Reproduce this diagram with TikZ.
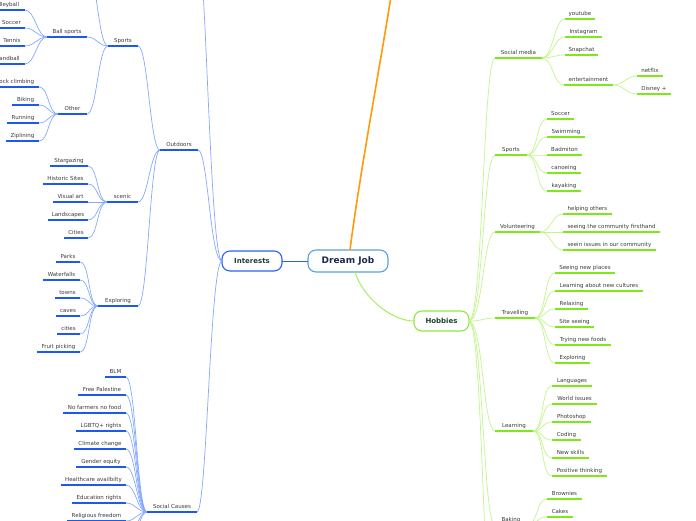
\documentclass[tikz,border=0pt]{standalone}
\usepackage{fontspec}
\setmainfont{DejaVu Sans}
\definecolor{lcon}{HTML}{86A8FF}
\definecolor{lul}{HTML}{1C58F2}
\definecolor{rcon}{HTML}{C2F58C}
\definecolor{rul}{HTML}{7EE81A}
\definecolor{txtc}{HTML}{3A3A3A}
\definecolor{djb}{HTML}{5AA2DA}
\definecolor{djt}{HTML}{182B4E}
\definecolor{intb}{HTML}{2A62F0}
\definecolor{maint}{HTML}{1D3F30}
\definecolor{hobb}{HTML}{8EE842}
\definecolor{orng}{HTML}{FF9A0A}
\tikzset{
  lbl/.style={font=\fontsize{5.5}{6.5}\selectfont, text=txtc, inner xsep=0pt, inner ysep=2.3pt,
    outer sep=0pt, text height=4.2pt, text depth=1.2pt},
  lnode/.style={lbl, anchor=south east},
  rnode/.style={lbl, anchor=south west},
  lconn/.style={draw=lcon, line width=0.7pt},
  rconn/.style={draw=rcon, line width=0.7pt},
  lline/.style={draw=lul, line width=1.5pt},
  rline/.style={draw=rul, line width=1.5pt},
  mainbox/.style={rounded corners=8pt, fill=white, line width=1.1pt, outer sep=0pt, inner sep=0pt},
}
\newcommand\LN[5]{\node[lnode, minimum width={(#3)-(#2)}] (#1) at (#3,#4) {#5};}
\newcommand\RN[5]{\node[rnode, minimum width={(#3)-(#2)}] (#1) at (#2,#4) {#5};}
\newcommand\LC[2]{\draw[lconn] (#1.south west) .. controls +(-10,0) and +(10,0) .. (#2.south east);}
\newcommand\RC[2]{\draw[rconn] (#1.south east) .. controls +(11,0) and +(-11,0) .. (#2.south west);}
\begin{document}
\begin{tikzpicture}[x=1pt,y=-1pt]
\useasboundingbox (0,0) rectangle (696,520);
\clip (0,0) rectangle (696,520);

% main nodes
\node[mainbox, draw=djb, minimum width=80pt, minimum height=22pt, text=djt,
  font=\fontsize{9}{10}\selectfont\bfseries] (dj) at (348,261) {Dream Job};
\node[mainbox, draw=intb, minimum width=60pt, minimum height=20pt, text=maint,
  font=\fontsize{7}{8}\selectfont\bfseries] (int) at (252,261) {Interests};
\node[mainbox, draw=hobb, minimum width=55pt, minimum height=20pt, text=maint,
  font=\fontsize{7}{8}\selectfont\bfseries] (hob) at (441.5,321) {Hobbies};

% off-picture ends
\coordinate (career) at (395,-30);
\coordinate (intup) at (198,-50);
\coordinate (spup) at (87,-30);
\coordinate (scd1) at (126,539);
\coordinate (scd2) at (126,557);
\coordinate (hobd) at (495,640);
\coordinate (bakd) at (547,535);

% left side nodes
\LN{out}{160}{198}{150}{Outdoors}
\LN{sp}{108}{138}{46}{Sports}
\LN{bs}{47}{87}{37}{Ball sports}
\LN{vb}{-13}{25}{10}{Volleyball}
\LN{soc}{-2}{25}{28}{Soccer}
\LN{ten}{-1}{25}{46}{Tennis}
\LN{hb}{-10}{25}{64}{Handball}
\LN{oth}{58}{87}{114}{Other}
\LN{rc}{-9}{39}{87}{Rock climbing}
\LN{bik}{12}{39}{105}{Biking}
\LN{run}{7}{39}{123}{Running}
\LN{zip}{6}{39}{141}{Ziplining}
\LN{sce}{107}{138}{202}{scenic}
\LN{sg}{50}{88}{166}{Stargazing}
\LN{hs}{43}{88}{184}{Historic Sites}
\LN{va}{53}{88}{202}{Visual art}
\LN{ls}{48}{88}{220}{Landscapes}
\LN{cit}{64}{88}{238}{Cities}
\LN{exp}{98}{138}{306}{Exploring}
\LN{pk}{56}{80}{262}{Parks}
\LN{wf}{43}{80}{280}{Waterfalls}
\LN{tw}{55}{80}{298}{towns}
\LN{cv}{56}{80}{316}{caves}
\LN{cis}{57}{80}{334}{cities}
\LN{fp}{37}{80}{352}{Fruit picking}
\LN{sc}{147}{197}{512}{Social Causes}
\LN{blm}{105}{126}{377}{BLM}
\LN{fpal}{78}{126}{395}{Free Palestine}
\LN{nf}{63}{126}{413}{No farmers no food}
\LN{lg}{76}{126}{431}{LGBTQ+ rights}
\LN{cc}{74}{126}{449}{Climate change}
\LN{ge}{76}{126}{467}{Gender equity}
\LN{hc}{61}{126}{485}{Healthcare availbilty}
\LN{er}{72}{126}{503}{Education rights}
\LN{rf}{67}{126}{521}{Religious freedom}

% right side nodes
\RN{sm}{495}{542}{58}{Social media}
\RN{yt}{565}{595}{19}{youtube}
\RN{ig}{565}{602}{37}{Instagram}
\RN{snap}{565}{598}{55}{Snapchat}
\RN{ent}{564}{613}{85}{entertainment}
\RN{nfx}{637}{663}{76}{netflix}
\RN{dis}{637}{671}{94}{Disney +}
\RN{rsp}{495}{527}{155}{Sports}
\RN{rso}{547}{574}{119}{Soccer}
\RN{sw}{547}{585}{137}{Swimming}
\RN{bad}{547}{582}{155}{Badmiton}
\RN{can}{547}{581}{173}{canoeing}
\RN{kay}{547}{581}{191}{kayaking}
\RN{vol}{495}{540}{232}{Volunteering}
\RN{ho}{563}{612}{214}{helping others}
\RN{stc}{563}{660}{232}{seeing the community firsthand}
\RN{sii}{563}{656}{250}{seein issues in our community}
\RN{tra}{495}{535}{318}{Travelling}
\RN{snp}{555}{615}{273}{Seeing new places}
\RN{lnc}{555}{643}{291}{Learning about new cultures}
\RN{rel}{555}{588}{309}{Relaxing}
\RN{ss}{555}{594}{327}{Site seeing}
\RN{tnf}{555}{611}{345}{Trying new foods}
\RN{rex}{555}{590}{363}{Exploring}
\RN{lea}{495}{533}{431}{Learning}
\RN{lang}{552}{592}{386}{Languages}
\RN{wi}{552}{597}{404}{World issues}
\RN{ps}{552}{591}{422}{Photoshop}
\RN{cod}{552}{581}{440}{Coding}
\RN{ns}{552}{589}{458}{New skills}
\RN{pt}{552}{607}{476}{Positive thinking}
\RN{bak}{495}{527}{525}{Baking}
\RN{brw}{547}{582}{499}{Brownies}
\RN{cak}{547}{573}{517}{Cakes}

% main connectors
\draw[draw=intb, line width=1pt] (dj.west) -- (int.east);
\draw[draw=rul!70, line width=1pt] ([xshift=7pt]dj.south) .. controls +(8,26) and +(-22,0) .. (hob.west);
\draw[draw=orng, line width=1.6pt] ([xshift=2pt]dj.north) .. controls +(10,-80) and +(-10,70) .. (career);

% Interests branches
\draw[lconn] (int.west) .. controls +(-12,0) and +(8,0) .. (intup);
\draw[lconn] (int.west) .. controls +(-12,0) and +(10,0) .. (out.south east);
\draw[lconn] (int.west) .. controls +(-12,0) and +(10,0) .. (sc.south east);
\foreach \c in {sp,sce,exp} {\LC{out}{\c}}
\draw[lconn] (sp.south west) .. controls +(-10,0) and +(10,0) .. (spup);
\foreach \c in {bs,oth} {\LC{sp}{\c}}
\foreach \c in {vb,soc,ten,hb} {\LC{bs}{\c}}
\foreach \c in {rc,bik,run,zip} {\LC{oth}{\c}}
\foreach \c in {sg,hs,va,ls,cit} {\LC{sce}{\c}}
\foreach \c in {pk,wf,tw,cv,cis,fp} {\LC{exp}{\c}}
\foreach \c in {blm,fpal,nf,lg,cc,ge,hc,er,rf} {\LC{sc}{\c}}
\draw[lconn] (sc.south west) .. controls +(-10,0) and +(10,0) .. (scd1);
\draw[lconn] (sc.south west) .. controls +(-10,0) and +(10,0) .. (scd2);

% Hobbies branches
\foreach \c in {sm,rsp,vol,tra,lea,bak} {\draw[rconn] (hob.east) .. controls +(14,0) and +(-12,0) .. (\c.south west);}
\draw[rconn] (hob.east) .. controls +(14,0) and +(-12,0) .. (hobd);
\foreach \c in {yt,ig,snap,ent} {\RC{sm}{\c}}
\foreach \c in {nfx,dis} {\RC{ent}{\c}}
\foreach \c in {rso,sw,bad,can,kay} {\RC{rsp}{\c}}
\foreach \c in {ho,stc,sii} {\RC{vol}{\c}}
\foreach \c in {snp,lnc,rel,ss,tnf,rex} {\RC{tra}{\c}}
\foreach \c in {lang,wi,ps,cod,ns,pt} {\RC{lea}{\c}}
\foreach \c in {brw,cak} {\RC{bak}{\c}}
\draw[rconn] (bak.south east) .. controls +(11,0) and +(-11,0) .. (bakd);

% underlines
\foreach \n in {out,sp,bs,vb,soc,ten,hb,oth,rc,bik,run,zip,sce,sg,hs,va,ls,cit,exp,pk,wf,tw,cv,cis,fp,sc,blm,fpal,nf,lg,cc,ge,hc,er,rf}
  {\draw[lline] (\n.south west) -- (\n.south east);}
\foreach \n in {sm,yt,ig,snap,ent,nfx,dis,rsp,rso,sw,bad,can,kay,vol,ho,stc,sii,tra,snp,lnc,rel,ss,tnf,rex,lea,lang,wi,ps,cod,ns,pt,bak,brw,cak}
  {\draw[rline] (\n.south west) -- (\n.south east);}
\end{tikzpicture}
\end{document}
